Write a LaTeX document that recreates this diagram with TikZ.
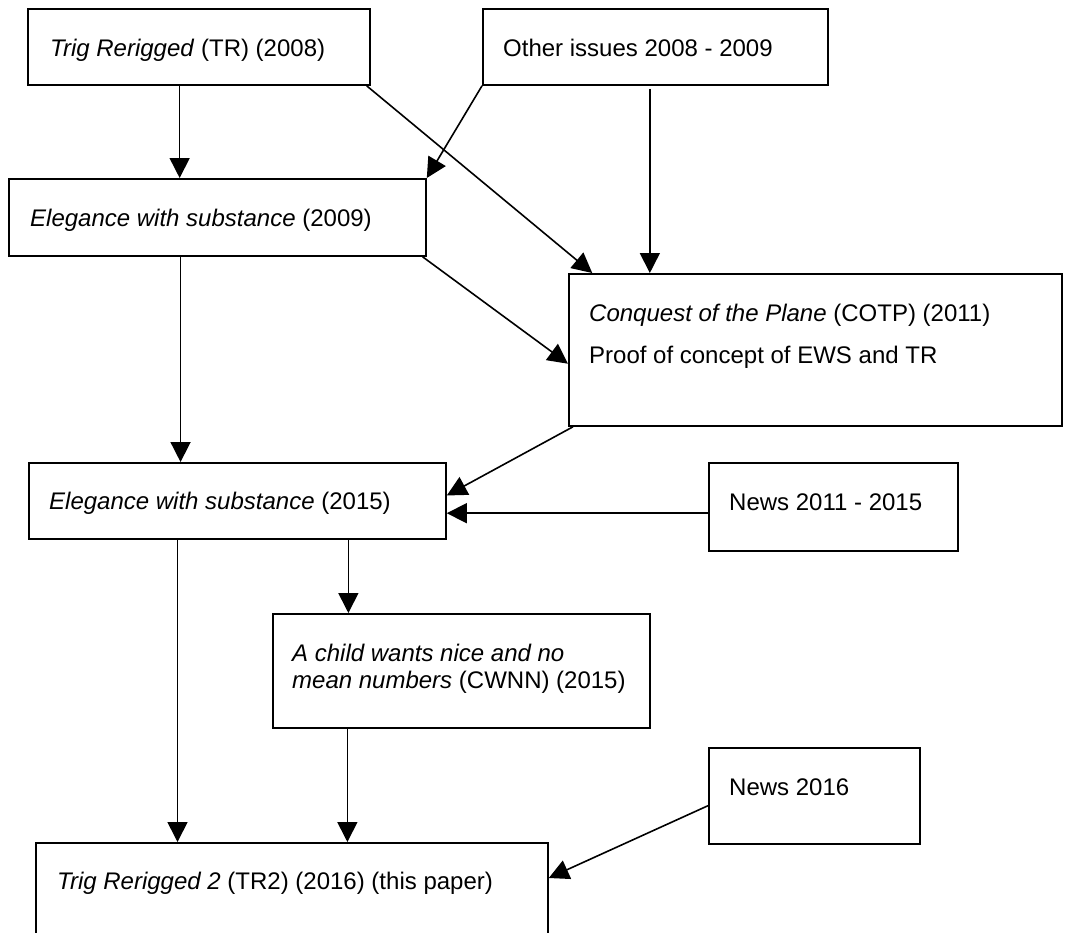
\documentclass[tikz,border=0pt]{standalone}
\usepackage{fontspec}
\setmainfont{Liberation Sans}
\usetikzlibrary{arrows.meta,calc}
\tikzset{
  box/.style={draw=black, line width=1.8pt, rectangle, inner sep=0pt, anchor=north west, fill=white},
  txt/.style={anchor=west, inner sep=0pt, align=left, font=\fontsize{24}{27.5}\selectfont},
  arr/.style={draw=black, line width=1.6pt, -{Triangle[length=20pt,width=20pt]}}
}
\begin{document}
\begin{tikzpicture}[x=1pt,y=-1pt]
\useasboundingbox (0,0) rectangle (1067,932);
\clip (0,0) rectangle (1067,932);
% boxes
\node[box, minimum width=342pt, minimum height=76pt] (tr) at (27,8) {};
\node[box, minimum width=345pt, minimum height=76pt] (oth) at (482,8) {};
\node[box, minimum width=417pt, minimum height=77pt] (e09) at (8,178) {};
\node[box, minimum width=493pt, minimum height=152pt] (cotp) at (568,273) {};
\node[box, minimum width=417pt, minimum height=76pt] (e15) at (28,462) {};
\node[box, minimum width=249pt, minimum height=88pt] (n1115) at (708,462) {};
\node[box, minimum width=377pt, minimum height=114pt] (cwnn) at (272,613) {};
\node[box, minimum width=211pt, minimum height=96pt] (n16) at (708,747) {};
\node[box, minimum width=512pt, minimum height=110pt] (tr2) at (35,842) {};
% texts
\node[txt] (trt) at ($(tr.north west)+(23,42)$) {\textit{Trig Rerigged} (TR) (2008)};
\node[txt] (otht) at ($(oth.north west)+(21,40)$) {Other issues 2008 - 2009};
\node[txt] (e09t) at ($(e09.north west)+(22,42)$) {\textit{Elegance with substance} (2009)};
\node[txt] (cotpt) at ($(cotp.north west)+(21,63)$) {\textit{Conquest of the Plane} (COTP) (2011)\\[14.5pt]Proof of concept of EWS and TR};
\node[txt] (e15t) at ($(e15.north west)+(21,41)$) {\textit{Elegance with substance} (2015)};
\node[txt] (n1115t) at ($(n1115.north west)+(21,40)$) {News 2011 - 2015};
\node[txt] (cwnnt) at ($(cwnn.north west)+(20,56)$) {\textit{A child wants nice and no}\\\textit{mean numbers} (CWNN) (2015)};
\node[txt] (n16t) at ($(n16.north west)+(21,40)$) {News 2016};
\node[txt] (tr2t) at ($(tr2.north west)+(22,41)$) {\textit{Trig Rerigged 2} (TR2) (2016) (this paper)};
% connector points
\coordinate (a1) at ($(tr.south west)!0.444!(tr.south east)$);
\coordinate (a3) at ($(tr.south west)!0.988!(tr.south east)$);
\coordinate (b3) at ($(cotp.north west)!0.049!(cotp.north east)$);
\coordinate (a4) at ($(oth.south west)!0.484!(oth.south east)+(0,3)$);
\coordinate (a5) at ($(e09.south west)!0.99!(e09.south east)$);
\coordinate (b5) at ($(cotp.north west)!0.59!(cotp.south west)$);
\coordinate (a6) at ($(e09.south west)!0.412!(e09.south east)$);
\coordinate (a7) at ($(cotp.south west)!0.01!(cotp.south east)$);
\coordinate (b7) at ($(e15.north east)!0.43!(e15.south east)$);
\coordinate (a8) at ($(n1115.north west)!0.57!(n1115.south west)$);
\coordinate (a9) at ($(e15.south west)!0.765!(e15.south east)$);
\coordinate (a10) at ($(e15.south west)!0.357!(e15.south east)$);
\coordinate (a11) at ($(cwnn.south west)!0.199!(cwnn.south east)$);
\coordinate (a12) at ($(n16.north west)!0.6!(n16.south west)$);
\coordinate (b12) at ($(tr2.north east)+(0,36)$);
% connectors
\draw[arr] (a1) -- (a1 |- e09.north);
\draw[arr] (oth.south west) -- (e09.north east);
\draw[arr] (a3) -- (b3);
\draw[arr] (a4) -- (a4 |- cotp.north);
\draw[arr] (a5) -- (b5);
\draw[arr] (a6) -- (a6 |- e15.north);
\draw[arr] (a7) -- (b7);
\draw[arr] (a8) -- (a8 -| e15.east);
\draw[arr] (a9) -- (a9 |- cwnn.north);
\draw[arr] (a10) -- (a10 |- tr2.north);
\draw[arr] (a11) -- (a11 |- tr2.north);
\draw[arr] (a12) -- (b12);
\end{tikzpicture}
\end{document}
